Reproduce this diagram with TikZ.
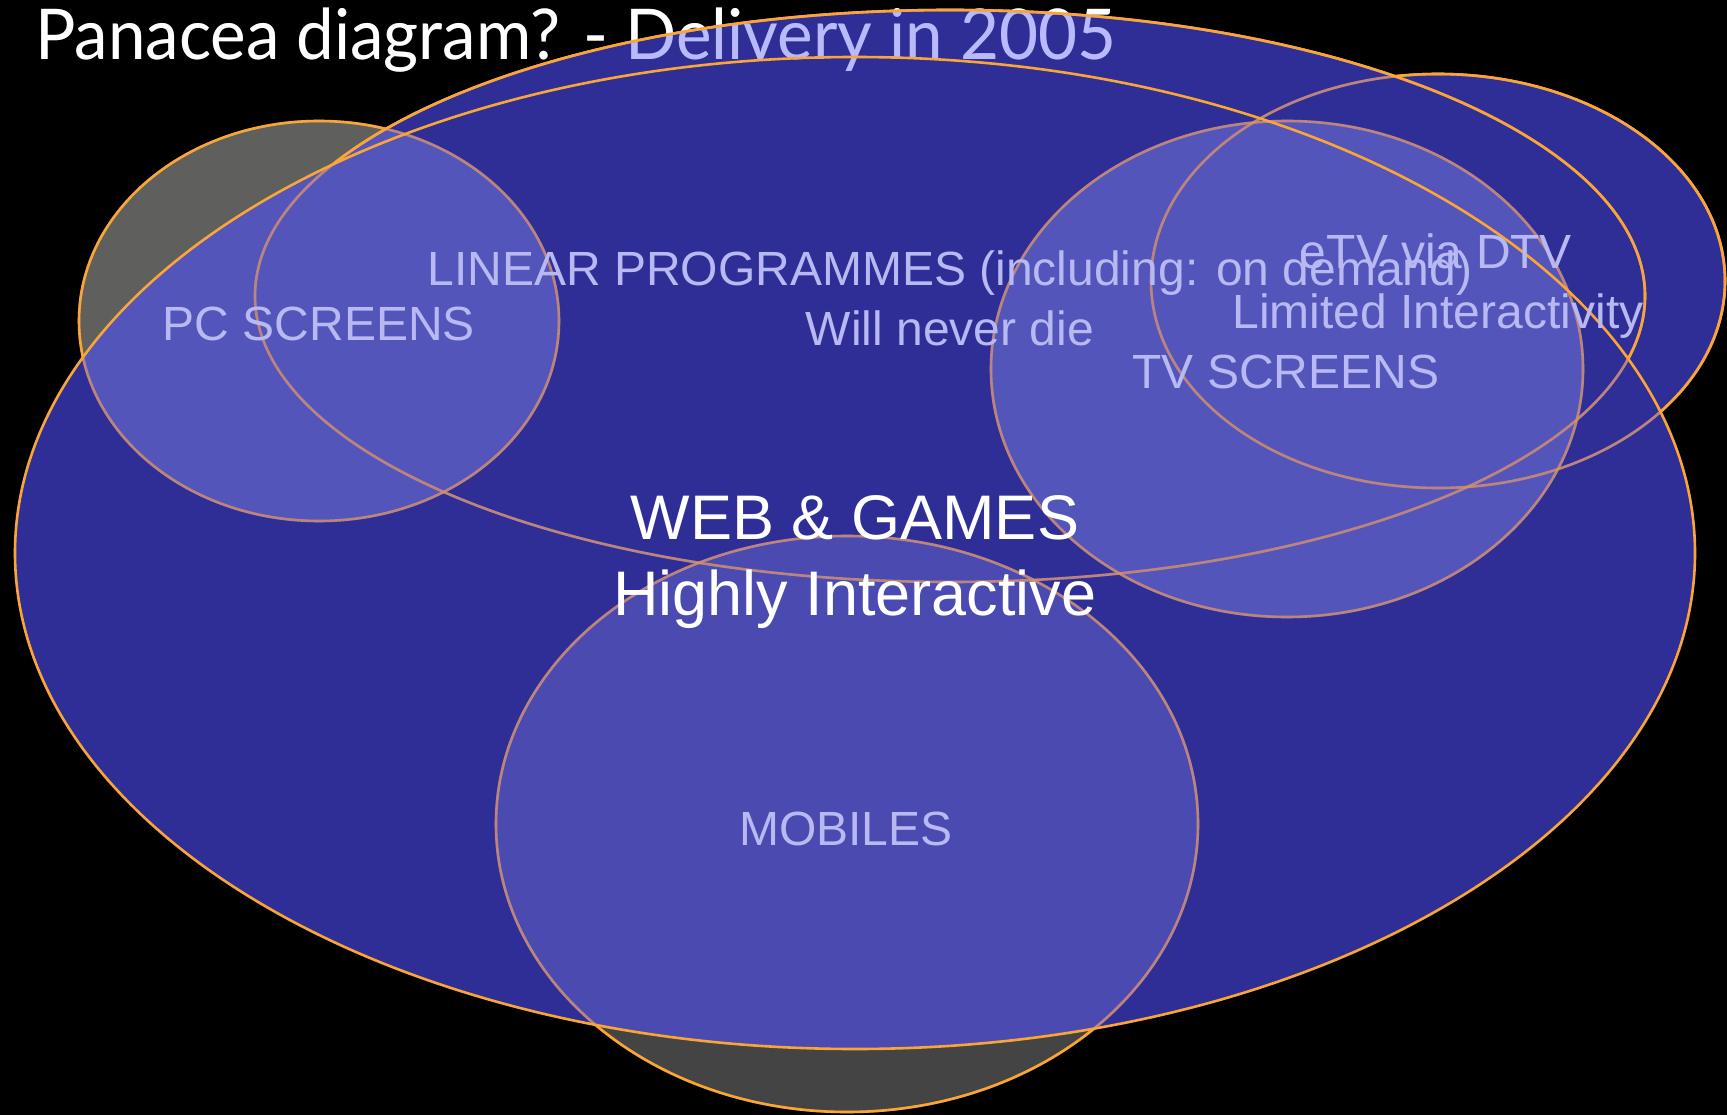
\documentclass[tikz,border=0pt]{standalone}
\usepackage{fontspec}
\setmainfont{Liberation Sans}
\newfontfamily\titlefont{Lato}
\usepackage{graphicx}
\definecolor{bord}{RGB}{250,165,55}
\definecolor{bluefill}{RGB}{78,78,250}
\definecolor{pcgray}{RGB}{95,96,94}
\definecolor{mobgray}{RGB}{68,68,68}
\definecolor{lav}{RGB}{184,184,242}
\newcommand{\titletext}{\resizebox{1081pt}{\height}{\titlefont\fontsize{70}{84}\selectfont Panacea diagram? - Delivery in 2005}}
\begin{document}
\begin{tikzpicture}[x=1pt,y=-1pt,
  lbl/.style={font=\fontsize{48}{58}\selectfont, text=lav, inner sep=0pt, anchor=base},
  biglbl/.style={font=\fontsize{63}{76}\selectfont, text=white, inner sep=0pt, anchor=base},
  rim/.style={draw=bord, line width=2.6pt},
  halfrim/.style={draw=bord, line width=2.6pt, draw opacity=0.4}]
\useasboundingbox (0,0) rectangle (1727,1115);
\fill[black] (0,0) rectangle (1727,1115);

% title (partly covered by the blue ellipses)
\node[anchor=base west, inner sep=0pt, text=white] (title) at (35,60) {\titletext};

% grey ellipses (below the blue layers)
\filldraw[fill=pcgray, rim] (319,321) ellipse (240pt and 200pt);
\filldraw[fill=pcgray, rim] (1287,369) ellipse (296pt and 248pt);
\filldraw[fill=mobgray, rim] (847,824) ellipse (351pt and 288pt);

% borders of the blue layers, later covered
\draw[rim] (1438,281) ellipse (287pt and 207pt);
\draw[rim] (950,296) ellipse (695pt and 286pt);

% blue union (one path, nonzero rule -> no accumulation)
\fill[bluefill, opacity=0.6]
  (1438,281) ellipse (287pt and 207pt)
  (950,296) ellipse (695pt and 286pt)
  (855,553) ellipse (840pt and 496pt);

% covered borders show through the pattern
\draw[halfrim] (319,321) ellipse (240pt and 200pt);
\draw[halfrim] (1287,369) ellipse (296pt and 248pt);
\draw[halfrim] (847,824) ellipse (351pt and 288pt);
\draw[halfrim] (1438,281) ellipse (287pt and 207pt);
\draw[halfrim] (950,296) ellipse (695pt and 286pt);

% title seen through the pattern
\node[anchor=base west, inner sep=0pt, text=white, text opacity=0.35] (titleb) at (35,60) {\titletext};

% uncovered border parts
\begin{scope}[even odd rule]
  \clip (-10,-10) rectangle (1740,1130)
    (855,553) ellipse (840pt and 496pt);
  \draw[rim] (950,296) ellipse (695pt and 286pt);
  \begin{scope}[even odd rule]
    \clip (-10,-10) rectangle (1740,1130)
      (950,296) ellipse (695pt and 286pt);
    \draw[rim] (1438,281) ellipse (287pt and 207pt);
  \end{scope}
\end{scope}

\draw[rim] (855,553) ellipse (840pt and 496pt);

% labels
\node[lbl] (pc) at (319,341) {PC SCREENS};
\node[lbl] (lin1) at (950,286) {LINEAR PROGRAMMES (including: on demand)};
\node[lbl] (lin2) at (950,345) {Will never die};
\node[lbl] (etv1) at (1436,269) {eTV via DTV};
\node[lbl] (etv2) at (1438,328) {Limited Interactivity};
\node[lbl] (tv) at (1286,388) {TV SCREENS};
\node[lbl] (mob) at (846,845) {MOBILES};

\node[biglbl] (web) at (855,539) {WEB \& GAMES};
\node[biglbl] (hi) at (855,615) {Highly Interactive};
\end{tikzpicture}
\end{document}
